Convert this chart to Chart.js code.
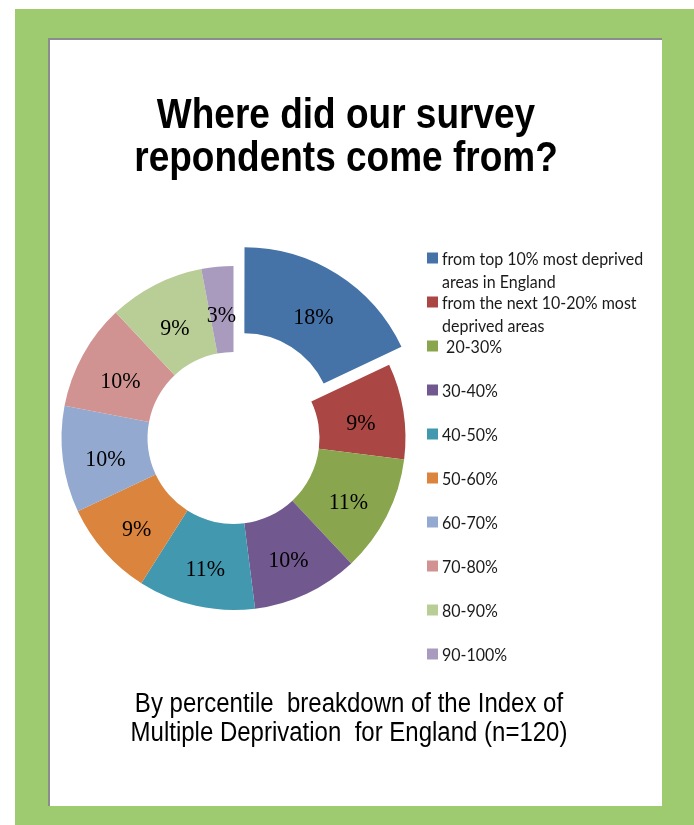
<!DOCTYPE html>
<html>
<head>
<meta charset="utf-8">
<title>Where did our survey repondents come from?</title>
<script src="https://cdn.jsdelivr.net/npm/chart.js@4.4.1/dist/chart.umd.min.js"></script>
<style>
    html, body { margin: 0; padding: 0; background: #fff; }
    #frame { position: absolute; left: 15px; top: 9px; width: 679px; height: 816px; background: #9ecb70; }
    #panel { position: absolute; left: 48px; top: 38px; width: 612px; height: 766px; background: #fff;
             border-left: 2px solid #8c8c8c; border-top: 2px solid #8c8c8c; }
    #panel canvas { position: absolute; left: 0; top: 0; }
</style>
</head>
<body>
<div id="frame"></div>
<div id="panel"><canvas id="imd-donut" width="612" height="766"></canvas></div>

<script>
const categories = [
    "from top 10% most deprived areas in England",
    "from the next 10-20% most deprived areas",
    " 20-30%",
    "30-40%",
    "40-50%",
    "50-60%",
    "60-70%",
    "70-80%",
    "80-90%",
    "90-100%"
];
const shares = [18, 9, 11, 10, 11, 9, 10, 10, 9, 3];
const sliceLabels = ["18%", "9%", "11%", "10%", "11%", "9%", "10%", "10%", "9%", "3%"];

const titleLines = ["Where did our survey", "repondents come from?"];
const subtitleLines = ["By percentile  breakdown of the Index of", "Multiple Deprivation  for England (n=120)"];

const colours = ['#4572a7', '#aa4643', '#89a54e', '#71588f', '#4198af',
                 '#db843d', '#93a9cf', '#d19392', '#b9cd96', '#a99bbd'];

const EXPLODE = 20;   // px the first slice is pulled out

// stretched text (the original picture is a little taller than wide)
function drawText(ctx, txt, x, y, sy) {
    ctx.save();
    ctx.translate(x, y);
    ctx.scale(1, sy);
    ctx.fillText(txt, 0, 0);
    ctx.restore();
}

function wrap(ctx, txt, maxW) {
    if (ctx.measureText(txt).width <= maxW) return [txt];
    const words = txt.split(' ');
    const lines = [];
    let cur = '';
    words.forEach(w => {
        const test = cur ? cur + ' ' + w : w;
        if (cur && ctx.measureText(test).width > maxW) {
            lines.push(cur);
            cur = w;
        } else {
            cur = test;
        }
    });
    lines.push(cur);
    return lines;
}

const panelText = {
    id: 'panelText',
    afterDraw(chart) {
        const ctx = chart.ctx;
        ctx.save();
        ctx.fillStyle = '#000';

        // title
        ctx.font = 'bold 37px "Liberation Sans", Arial, sans-serif';
        ctx.textAlign = 'center';
        ctx.textBaseline = 'alphabetic';
        drawText(ctx, titleLines[0], 296, 88, 1.13);
        drawText(ctx, titleLines[1], 296, 131, 1.13);

        // subtitle
        ctx.font = '24px "Liberation Sans", Arial, sans-serif';
        drawText(ctx, subtitleLines[0], 299, 672, 1.13);
        drawText(ctx, subtitleLines[1], 299, 701, 1.13);

        // values inside the ring
        const meta = chart.getDatasetMeta(0);
        ctx.font = '22px "Liberation Serif", serif';
        ctx.textBaseline = 'middle';
        meta.data.forEach((arc, i) => {
            const p = arc.getProps(['x', 'y', 'startAngle', 'endAngle', 'innerRadius', 'outerRadius']);
            const mid = (p.startAngle + p.endAngle) / 2;
            const push = i === 0 ? EXPLODE : 0;
            const r = (p.innerRadius + p.outerRadius) / 2 + push;
            drawText(ctx, sliceLabels[i], p.x + Math.cos(mid) * r, p.y + Math.sin(mid) * r + 6, 1.08);
        });

        // legend
        ctx.font = '16px Lato, "Open Sans", sans-serif';
        ctx.textAlign = 'left';
        categories.forEach((c, i) => {
            const y = 218 + i * 44;
            ctx.fillStyle = colours[i];
            ctx.fillRect(377, y - 5.5, 11, 11);
            ctx.fillStyle = '#1a1a1a';
            wrap(ctx, c, 222).forEach((ln, k) => {
                drawText(ctx, ln, 392, y + k * 23 + 1, 1.1);
            });
        });
        ctx.restore();
    }
};

const ctxDonut = document.getElementById('imd-donut').getContext('2d');

const donut = new Chart(ctxDonut, {
    type: 'doughnut',
    data: {
        labels: categories,
        datasets: [{
            data: shares,
            backgroundColor: colours,
            borderWidth: 0,
            offset: [EXPLODE * 4, 0, 0, 0, 0, 0, 0, 0, 0, 0],
            radius: 172,
            cutout: '50%'
        }]
    },
    options: {
        responsive: false,
        animation: false,
        layout: {
            padding: { left: 0, right: 245, top: 201, bottom: 171 }
        },
        plugins: {
            legend: { display: false },
            tooltip: { enabled: false }
        }
    },
    plugins: [panelText]
});
</script>
</body>
</html>
